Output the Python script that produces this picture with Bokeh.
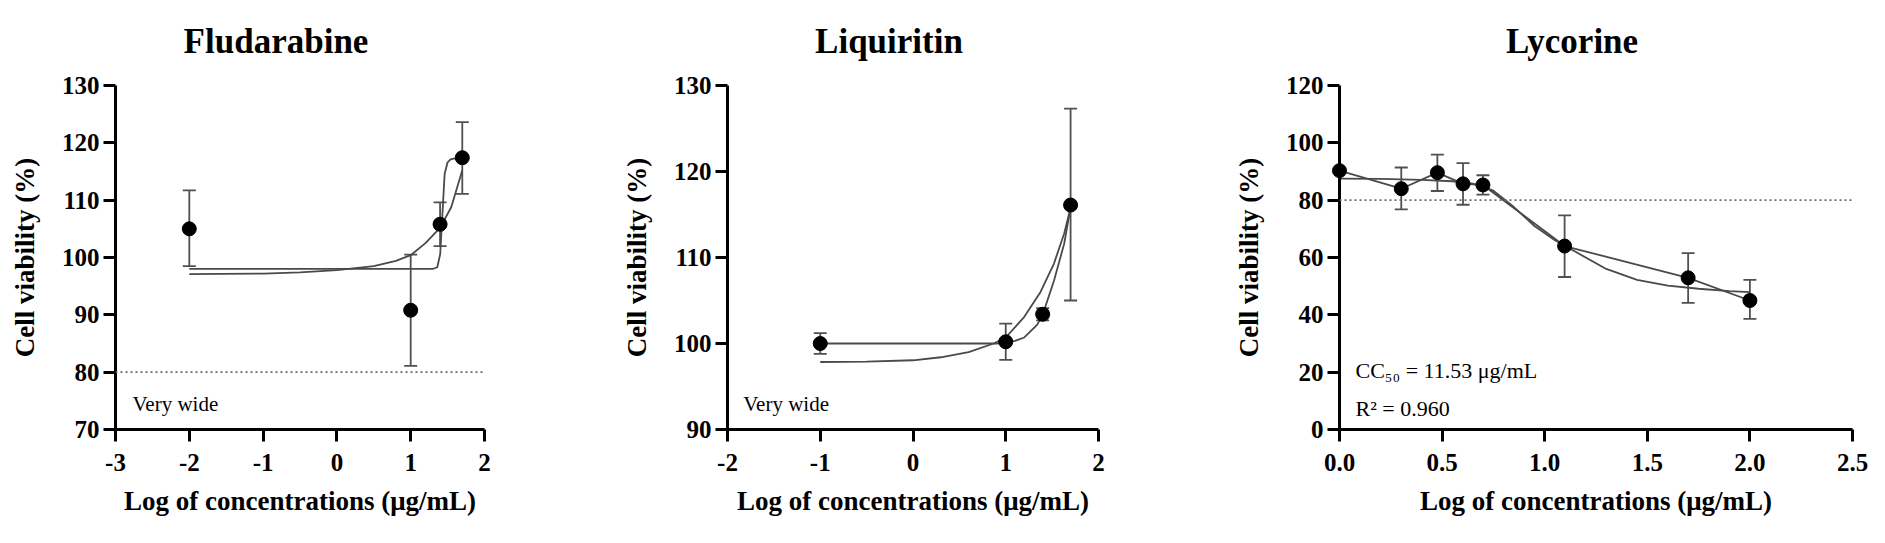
from bokeh.plotting import figure
from bokeh.layouts import row
from bokeh.models import (Range1d, Span, Whisker, TeeHead, ColumnDataSource,
                          FixedTicker, Label, NumeralTickFormatter)
from bokeh.core.properties import value
from bokeh.embed import file_html
from bokeh.resources import INLINE

FONT = "Liberation Serif"
INK = "#000000"
BAR = "#505050"
CURVE = "#4a4a4a"

# ---------------- data ----------------
# Fludarabine
flu_x = [-2.0, 1.0, 1.398, 1.699]
flu_y = [105.0, 90.8, 105.8, 117.4]
flu_lo = [98.5, 81.1, 102.0, 111.1]
flu_hi = [111.7, 100.5, 109.6, 123.6]
flu_fitA_x = [-2.0, 1.0, 1.30, 1.36, 1.40, 1.43, 1.46, 1.50, 1.54, 1.60, 1.699]
flu_fitA_y = [98.0, 98.0, 98.0, 98.3, 100.6, 107.6, 114.6, 116.6, 117.1, 117.3, 117.3]
flu_fitB_x = [-2.0, -1.0, -0.5, 0.0, 0.5, 0.8, 1.0, 1.2, 1.4, 1.55, 1.699]
flu_fitB_y = [97.1, 97.2, 97.4, 97.8, 98.5, 99.4, 100.4, 102.5, 105.2, 108.8, 115.2]

# Liquiritin
liq_x = [-1.0, 1.0, 1.398, 1.699]
liq_y = [100.0, 100.2, 103.4, 116.1]
liq_lo = [98.8, 98.1, 102.7, 105.0]
liq_hi = [101.2, 102.3, 104.1, 127.3]
liq_fitA_x = [-1.0, 0.9, 1.0, 1.1, 1.2, 1.34, 1.40, 1.52, 1.63, 1.699]
liq_fitA_y = [100.0, 100.0, 100.1, 100.3, 100.7, 102.2, 103.4, 107.3, 111.6, 115.8]
liq_fitB_x = [-1.0, -0.5, 0.0, 0.3, 0.6, 0.87, 1.0, 1.2, 1.375, 1.52, 1.63, 1.699]
liq_fitB_y = [97.85, 97.9, 98.05, 98.4, 99.0, 100.0, 100.7, 103.1, 106.0, 109.3, 112.8, 115.8]

# Lycorine
lyc_x = [0.0, 0.301, 0.477, 0.602, 0.699, 1.097, 1.699, 2.0]
lyc_y = [90.3, 84.0, 89.6, 85.7, 85.3, 64.0, 52.9, 45.0]
lyc_lo = [90.3, 76.8, 83.2, 78.4, 81.9, 53.2, 44.2, 38.6]
lyc_hi = [90.3, 91.4, 95.9, 92.9, 88.7, 74.7, 61.5, 52.2]
lyc_fit_x = [0.0, 0.2, 0.4, 0.55, 0.65, 0.75, 0.85, 0.95, 1.05, 1.15, 1.3, 1.45, 1.6, 1.75, 1.9, 2.0]
lyc_fit_y = [87.5, 87.4, 87.1, 86.6, 85.8, 83.3, 77.6, 71.0, 66.0, 62.0, 56.0, 52.2, 50.2, 49.1, 48.3, 47.9]

X_LABEL = "Log of concentrations (\u03bcg/mL)"
Y_LABEL = "Cell viability (%)"

FRAME_H = 344
TOP = 85


def make_panel(title, xr, yr, xticks, yticks, left, fw, right, xfmt):
    p = figure(frame_width=fw, frame_height=FRAME_H,
               min_border_left=left, min_border_right=right,
               min_border_top=TOP, min_border_bottom=100,
               x_range=Range1d(*xr), y_range=Range1d(*yr),
               output_backend="svg", toolbar_location=None,
               background_fill_color="white", border_fill_color="white")
    p.outline_line_color = None
    p.xgrid.visible = False
    p.ygrid.visible = False
    for ax in (p.xaxis[0], p.yaxis[0]):
        ax.axis_line_width = 3
        ax.axis_line_color = INK
        ax.major_tick_line_width = 3
        ax.major_tick_line_color = INK
        ax.major_tick_out = 12
        ax.major_tick_in = 0
        ax.minor_tick_line_color = None
        ax.major_label_text_font = FONT
        ax.major_label_text_font_style = "bold"
        ax.major_label_text_font_size = "25px"
        ax.major_label_text_color = INK
        ax.axis_label_text_font = FONT
        ax.axis_label_text_font_style = "bold"
        ax.axis_label_text_font_size = "27px"
        ax.axis_label_text_color = INK
    p.xaxis[0].ticker = FixedTicker(ticks=xticks)
    p.yaxis[0].ticker = FixedTicker(ticks=yticks)
    p.xaxis[0].formatter = NumeralTickFormatter(format=xfmt)
    p.yaxis[0].formatter = NumeralTickFormatter(format="0")
    p.xaxis[0].major_label_standoff = 12
    p.yaxis[0].major_label_standoff = 4
    p.xaxis[0].axis_label = X_LABEL
    p.yaxis[0].axis_label = Y_LABEL
    p.xaxis[0].axis_label_standoff = 12
    p.yaxis[0].axis_label_standoff = 19
    # title text (overlay-level text glyph so it is not clipped to the frame):
    # centred 24 px left of the frame centre, baseline 44 px above the frame
    xs = (xr[1] - xr[0]) / fw
    ys = (yr[1] - yr[0]) / FRAME_H
    p.text(x=[xr[0] + (fw / 2 - 24) * xs], y=[yr[1] + 44 * ys], text=[title],
           text_align="center", text_baseline="alphabetic",
           text_font=value(FONT), text_font_style="bold",
           text_font_size=value("35px"), text_color=INK, level="overlay")
    return p


def add_data(p, xs, ys, lo, hi, fits, threshold=True):
    if threshold:
        p.add_layout(Span(location=80, dimension="width", line_color="#6a6a6a",
                          line_width=1.6, line_dash="2 3"))
    for fx, fy in fits:
        p.line(fx, fy, line_color=CURVE, line_width=1.8)
    src = ColumnDataSource(dict(x=xs, y=ys, lo=lo, hi=hi))
    w = Whisker(base="x", lower="lo", upper="hi", source=src,
                line_color=BAR, line_width=1.8,
                upper_head=TeeHead(size=13, line_color=BAR, line_width=1.8),
                lower_head=TeeHead(size=13, line_color=BAR, line_width=1.8),
                level="underlay")
    p.add_layout(w)
    p.scatter("x", "y", source=src, size=14, fill_color=INK, line_color=INK,
              level="overlay")


p1 = make_panel("Fludarabine", (-3, 2), (70, 130), [-3, -2, -1, 0, 1, 2],
                [70, 80, 90, 100, 110, 120, 130], 115, 369, 120, "0")
add_data(p1, flu_x, flu_y, flu_lo, flu_hi,
         [(flu_fitA_x, flu_fitA_y), (flu_fitB_x, flu_fitB_y)])
p1.add_layout(Label(x=-2.77, y=72.4, text="Very wide", text_font=FONT,
                    text_font_size="21px", text_color=INK))

p2 = make_panel("Liquiritin", (-2, 2), (90, 130), [-2, -1, 0, 1, 2],
                [90, 100, 110, 120, 130], 123, 371, 120, "0")
add_data(p2, liq_x, liq_y, liq_lo, liq_hi,
         [(liq_fitA_x, liq_fitA_y), (liq_fitB_x, liq_fitB_y)], threshold=False)
p2.add_layout(Label(x=-1.83, y=91.6, text="Very wide", text_font=FONT,
                    text_font_size="21px", text_color=INK))

p3 = make_panel("Lycorine", (0, 2.5), (0, 120), [0, 0.5, 1.0, 1.5, 2.0, 2.5],
                [0, 20, 40, 60, 80, 100, 120], 121, 513, 25, "0.0")
add_data(p3, lyc_x, lyc_y, lyc_lo, lyc_hi,
         [(lyc_x, lyc_y), (lyc_fit_x, lyc_fit_y)])
p3.add_layout(Label(x=0.078, y=20.6, text="CC\u2085\u2080 = 11.53 \u03bcg/mL",
                    text_font=FONT, text_font_size="22px", text_color=INK,
                    text_baseline="middle"))
p3.add_layout(Label(x=0.078, y=7.3, text="R\u00b2 = 0.960",
                    text_font=FONT, text_font_size="22px", text_color=INK,
                    text_baseline="middle"))

layout = row(p1, p2, p3, spacing=0)
open("out.html", "w").write(file_html(layout, INLINE))
